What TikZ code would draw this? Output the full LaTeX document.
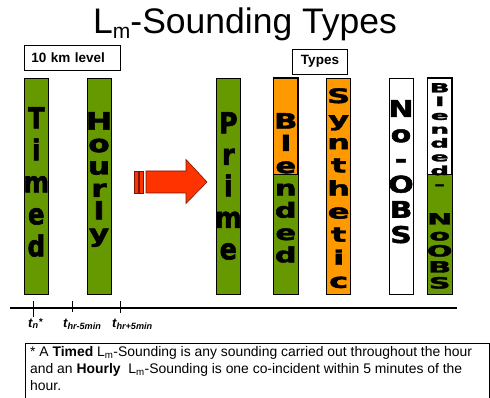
\documentclass[tikz,border=0pt]{standalone}
\usepackage{fontspec}
\setmainfont{Liberation Sans}
\newfontfamily\heavyfont[BoldFeatures={FakeBold=2}]{DejaVu Sans}
\newcommand\stacksize[2]{\fontsize{#1}{#2}\selectfont}
\definecolor{barGreen}{RGB}{102,153,0}
\definecolor{barOrange}{RGB}{255,153,0}
\definecolor{arrowRed}{RGB}{255,51,0}
\definecolor{arrowEdge}{RGB}{120,20,0}
\usetikzlibrary{positioning}

\begin{document}
\begin{tikzpicture}[
        x=1pt, y=-1pt,
        bar/.style={rectangle, draw=black, line width=0.7pt, minimum width=24pt, minimum height=216pt, inner sep=0pt},
        stack/.style={align=center, inner sep=0pt, anchor=north, transform shape},
        labelbox/.style={rectangle, draw=black, line width=0.7pt, font=\bfseries\stacksize{13.5}{16}, minimum height=25pt},
        tick/.style={line width=0.8pt},
        tlabel/.style={anchor=base west, inner sep=0pt, font=\bfseries\itshape\stacksize{13}{14}}
    ]
        \useasboundingbox (0,0) rectangle (490,398);

        % Title
        \node[anchor=base west, inner sep=0pt, font=\stacksize{35.5}{38}] (title) at (93,34)
            {L\raisebox{-4.5pt}{\stacksize{21}{22}m}-Sounding Types};

        % Boxes above the bars
        \node[labelbox, text width=82pt, inner xsep=7pt, align=left] (level) at (72.3,57.5) {10 km level};
        \node[labelbox, minimum width=54.6pt] (types) at (320,61.5) {Types};

        % Observed soundings
        \node[bar, fill=barGreen] (timed) at (36.3,186) {};
        \node[bar, fill=barGreen] (hourly) at (99,186) {};

        % Arrow
        \draw[arrowEdge, fill=arrowRed, line width=0.6pt] (134.3,171) rectangle (138.3,193);
        \draw[arrowEdge, fill=arrowRed, line width=0.6pt] (139.7,171) rectangle (143.7,193);
        \draw[arrowEdge, fill=arrowRed, line width=0.6pt] (146,171) -- (186,171) -- (186,159.5)
            -- (207,182) -- (186,203.5) -- (186,193) -- (146,193) -- cycle;

        % Sounding types
        \node[bar, fill=barGreen] (prime) at (228.3,186) {};
        \node[bar, fill=barOrange] (blended) at (285.8,186) {};
        \fill[barGreen] (blended.west |- 0,174) rectangle (blended.south east);
        \draw[line width=0.7pt] (blended.west |- 0,174) -- (blended.east |- 0,174);
        \draw[line width=0.7pt] (blended.north west) rectangle (blended.south east);
        \node[bar, fill=barOrange] (synthetic) at (338.7,186) {};
        \node[bar, fill=white] (noobs) at (401,186) {};
        \node[bar, fill=white] (blendnoobs) at (439.7,186) {};
        \fill[barGreen] (blendnoobs.west |- 0,174) rectangle (blendnoobs.south east);
        \draw[line width=0.7pt] (blendnoobs.west |- 0,174) -- (blendnoobs.east |- 0,174);
        \draw[line width=0.7pt] (blendnoobs.north west) rectangle (blendnoobs.south east);

        % Letters
        \node[stack, xscale=0.85, font=\heavyfont\bfseries\stacksize{29}{32}] (timedtxt) at (36.3,107) {T\\i\\m\\e\\d};
        \node[stack, xscale=1.3, font=\heavyfont\bfseries\stacksize{24}{22.4}] (hourlytxt) at (99,112) {H\\o\\u\\r\\l\\y};
        \node[stack, xscale=0.88, font=\heavyfont\bfseries\stacksize{29}{31.5}] (primetxt) at (228.3,112) {P\\r\\i\\m\\e};
        \node[stack, xscale=1.45, font=\heavyfont\bfseries\stacksize{21}{22.3}] (blendedtxt) at (285.8,113) {B\\l\\e\\n\\d\\e\\d};
        \node[stack, xscale=1.6, font=\heavyfont\bfseries\stacksize{20}{23.1}] (synthtxt) at (338.7,88) {S\\y\\n\\t\\h\\e\\t\\i\\c};
        \node[stack, xscale=1.3, font=\heavyfont\bfseries\stacksize{23}{25.2}] (noobstxt) at (401,100) {N\\o\\-\\O\\B\\S};
        \node[stack, xscale=2.1, font=\heavyfont\bfseries\stacksize{12.5}{13.8}] (blendtoptxt) at (439.7,83) {B\\l\\e\\n\\d\\e\\d\\-};
        \node[stack, xscale=1.95, font=\heavyfont\bfseries\stacksize{15.5}{16}] (noobsbottxt) at (439.7,213) {N\\o\\O\\B\\S};

        % Time axis
        \draw[line width=2pt] (10,308.3) -- (456.7,308.3);
        \draw[tick] (33.5,301) -- (33.5,317);
        \draw[tick] (72.3,301) -- (72.3,312);
        \draw[tick] (120,301) -- (120,313);
        \node[tlabel] (tn) at (28,327) {t\textsubscript{n}\raisebox{2pt}{\stacksize{10}{10}*}};
        \node[tlabel] (tminus) at (63,327) {t\textsubscript{hr-5min}};
        \node[tlabel] (tplus) at (112,327) {t\textsubscript{hr+5min}};

        % Footnote
        \draw[line width=0.7pt] (25,343) rectangle (489,402);
        \node[anchor=north west, inner sep=0pt, align=left, font=\stacksize{13.9}{16.7}] (note) at (30,346.5)
            {* A \textbf{Timed} L\textsubscript{m}-Sounding is any sounding carried out throughout the hour\\
             and an \textbf{Hourly}\ \ L\textsubscript{m}-Sounding is one co-incident within 5 minutes of the\\
             hour.};
    \end{tikzpicture}
\end{document}
